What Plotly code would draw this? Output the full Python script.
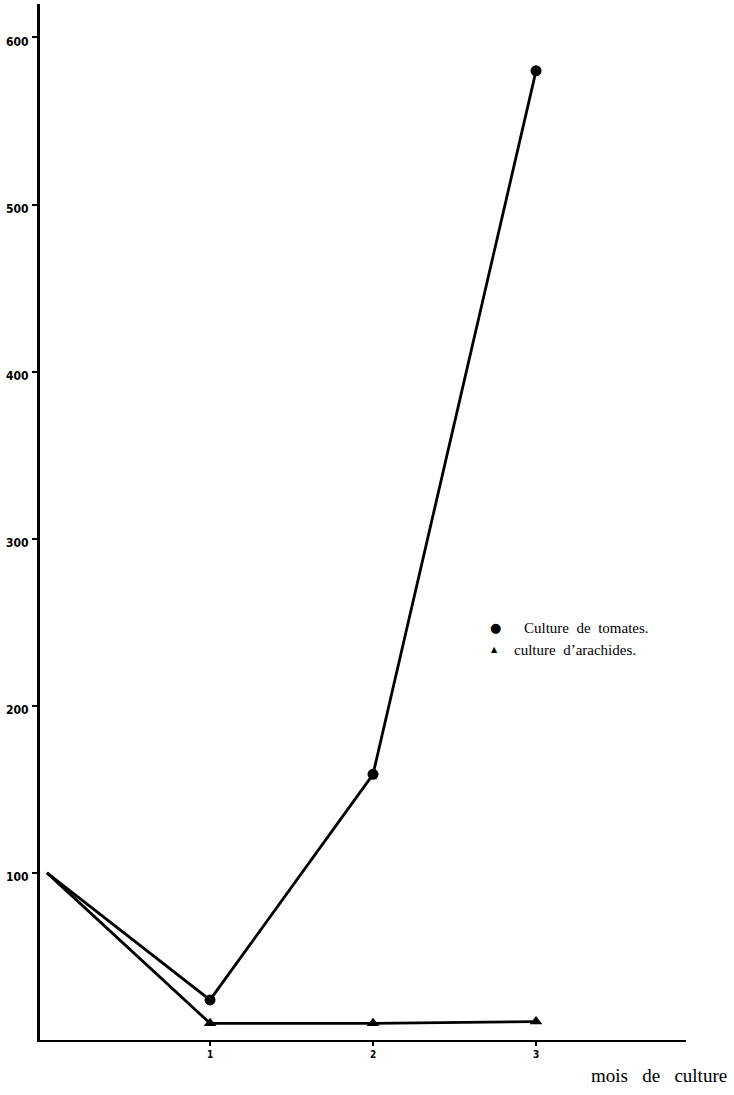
import plotly.graph_objects as go

months = [0, 1, 2, 3]
tomates = [100, 24, 159, 580]
arachides = [100, 10, 10, 11]
y_ticks = [100, 200, 300, 400, 500, 600]
x_ticks = [1, 2, 3]
legend_labels = ["Culture de tomates.", "culture d\u2019arachides."]

fig = go.Figure()
fig.add_trace(go.Scatter(
    x=months, y=tomates, mode="lines+markers",
    line=dict(color="black", width=2.8),
    marker=dict(symbol="circle", size=[0, 11, 11, 11], color="black", opacity=1,
                line=dict(color="black", width=0)),
    name=legend_labels[0], showlegend=False, cliponaxis=False))
fig.add_trace(go.Scatter(
    x=months, y=arachides, mode="lines+markers",
    line=dict(color="black", width=2.8),
    marker=dict(symbol="triangle-up", size=[0, 11, 11, 11], color="black", opacity=1,
                line=dict(color="black", width=0)),
    name=legend_labels[1], showlegend=False, cliponaxis=False))

tickfont = dict(family="Liberation Sans Narrow, DejaVu Sans Condensed, Arial Narrow, sans-serif",
                size=12, color="black", weight="bold")

fig.update_xaxes(range=[-0.043, 3.92], tickvals=x_ticks, ticktext=[str(v) for v in x_ticks],
                 showgrid=False, zeroline=False, showline=True, linecolor="black", linewidth=2,
                 ticks="outside", ticklen=4, tickwidth=1.5, tickcolor="black",
                 tickfont=dict(tickfont, size=10), automargin=False)
fig.update_yaxes(range=[0, 620], tickvals=y_ticks, ticktext=[str(v) for v in y_ticks],
                 showgrid=False, zeroline=False, showline=True, linecolor="black", linewidth=3,
                 ticks="outside", ticklen=5, tickwidth=1.5, tickcolor="black",
                 tickfont=tickfont, ticklabelstandoff=1, ticklabelshift=4, automargin=False)

serif = "Liberation Serif, Times New Roman, serif"
# legend symbols
fig.add_annotation(x=0.705, y=0.398, xref="paper", yref="paper", xanchor="center", yanchor="middle",
                   text="\u25CF", showarrow=False, font=dict(family="DejaVu Sans", size=13, color="black"))
fig.add_annotation(x=0.704, y=0.377, xref="paper", yref="paper", xanchor="center", yanchor="middle",
                   text="\u25B2", showarrow=False, font=dict(family="DejaVu Sans", size=8, color="black"))
# legend texts
fig.add_annotation(x=0.746, y=0.398, xref="paper", yref="paper", xanchor="left", yanchor="middle",
                   text=legend_labels[0].replace(" ", "  "),
                   showarrow=False, font=dict(family=serif, size=15, color="black"))
fig.add_annotation(x=0.73, y=0.376, xref="paper", yref="paper", xanchor="left", yanchor="middle",
                   text=legend_labels[1].replace(" ", "  "),
                   showarrow=False, font=dict(family=serif, size=15, color="black"))
fig.add_annotation(x=1.066, y=-0.034, xref="paper", yref="paper", xanchor="right", yanchor="middle",
                   text="mois   de   culture", showarrow=False,
                   font=dict(family=serif, size=19, color="black"))

fig.update_layout(width=734, height=1095, plot_bgcolor="white", paper_bgcolor="white",
                  margin=dict(l=40, r=48, t=4, b=55), showlegend=False)
fig.write_html("out.html", config={"displayModeBar": False},
               post_script="document.body.style.margin='0';document.body.style.padding='0';")
